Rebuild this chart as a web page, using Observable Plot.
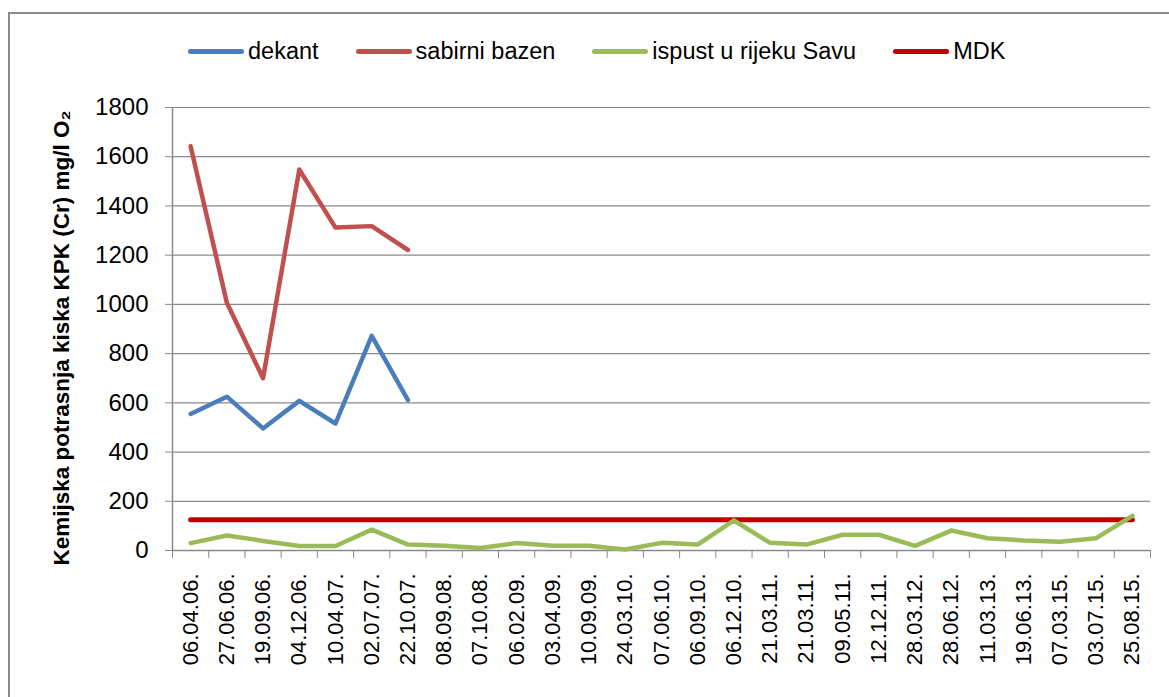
<!DOCTYPE html>
<html>
<head>
<meta charset="utf-8">
<script src="https://cdn.jsdelivr.net/npm/d3@7"></script>
<script src="https://cdn.jsdelivr.net/npm/@observablehq/plot@0.6"></script>
<style>
  html, body { margin: 0; padding: 0; background: #fff; overflow: hidden; }
  #wrap { position: relative; width: 1169px; height: 697px; font-family: "Liberation Sans", Arial, sans-serif; }
  #border { position: absolute; left: 8px; top: 12px; width: 1200px; height: 720px; border: 2px solid #8a8a8a; box-sizing: border-box; }
  #chart { position: absolute; left: 0; top: 0; }
  #legend { position: absolute; left: 188px; top: 38px; display: flex; align-items: center; font-size: 23.5px; color: #000; white-space: nowrap; }
  .item { display: flex; align-items: center; margin-right: 37px; }
  .sw { width: 56px; height: 5px; border-radius: 3px; margin-right: 4px; }
</style>
</head>
<body>
<div id="wrap">
  <div id="border"></div>
  <div id="chart"></div>
  <div id="legend"></div>
</div>
<script>
const dates = ["06.04.06.", "27.06.06.", "19.09.06.", "04.12.06.", "10.04.07.", "02.07.07.", "22.10.07.",
  "08.09.08.", "07.10.08.", "06.02.09.", "03.04.09.", "10.09.09.", "24.03.10.", "07.06.10.", "06.09.10.",
  "06.12.10.", "21.03.11.", "21.03.11.", "09.05.11.", "12.12.11.", "28.03.12.", "28.06.12.", "11.03.13.",
  "19.06.13.", "07.03.15.", "03.07.15.", "25.08.15."];
const dekant = [555, 625, 496, 608, 516, 872, 611];
const sabirni = [1643, 1007, 700, 1548, 1312, 1318, 1221];
const ispust = [30, 61, 39, 18, 18, 85, 24, 19, 10, 30, 19, 19, 4, 31, 24, 122, 31, 24, 64, 64, 19, 81, 50, 41, 36, 50, 141];
const mdk = [125, 125, 125, 125, 125, 125, 125, 125, 125, 125, 125, 125, 125, 125, 125, 125, 125, 125, 125, 125, 125, 125, 125, 125, 125, 125, 125];
const yTicks = [0, 200, 400, 600, 800, 1000, 1200, 1400, 1600, 1800];
const seriesNames = ["dekant", "sabirni bazen", "ispust u rijeku Savu", "MDK"];
const seriesColors = ["#4A7EBB", "#C0504D", "#9BBB59", "#C00000"];
const yTitle = "Kemijska potrasnja kiska KPK (Cr) mg/l O\u2082";

const idx = dates.map((d, i) => i);
const bandEdges = dates.concat([""]).map((d, i) => i - 0.5);

const chart = Plot.plot({
  width: 1169,
  height: 697,
  marginLeft: 172,
  marginRight: 19,
  marginTop: 107,
  marginBottom: 147,
  style: { fontFamily: "Liberation Sans, Arial, sans-serif", background: "transparent", color: "#000" },
  x: { type: "linear", domain: [-0.5, dates.length - 0.5] },
  y: { domain: [0, 1800] },
  marks: [
    Plot.gridY(yTicks.slice(1), { stroke: "#8a8a8a", strokeOpacity: 1, strokeWidth: 1.2 }),
    Plot.ruleY([0], { stroke: "#8a8a8a", strokeWidth: 1.5 }),
    Plot.ruleX([-0.5], { stroke: "#8a8a8a", strokeWidth: 1.5 }),
    Plot.axisY(yTicks, { tickSize: 7, tickPadding: 17, fontSize: 24, stroke: "#8a8a8a", fill: "#000", tickFormat: d => String(d), label: null }),
    Plot.axisX(bandEdges, { tickSize: 8, tickFormat: () => "", stroke: "#8a8a8a", label: null }),
    Plot.axisX(idx, { tickSize: 0, tickPadding: 23, tickRotate: -90, fontSize: 22, fill: "#000", tickFormat: i => dates[i], label: null }),
    Plot.text([yTitle], { frameAnchor: "left", textAnchor: "middle", rotate: -90, dx: -111, dy: 9, fontSize: 22.5, fontWeight: "bold", fill: "#000" }),
    Plot.lineY(mdk, { x: (d, i) => i, y: d => d, stroke: seriesColors[3], strokeWidth: 5, strokeLinecap: "round" }),
    Plot.lineY(ispust, { x: (d, i) => i, y: d => d, stroke: seriesColors[2], strokeWidth: 4.5, strokeLinecap: "round", strokeLinejoin: "round" }),
    Plot.lineY(dekant, { x: (d, i) => i, y: d => d, stroke: seriesColors[0], strokeWidth: 4.5, strokeLinecap: "round", strokeLinejoin: "round" }),
    Plot.lineY(sabirni, { x: (d, i) => i, y: d => d, stroke: seriesColors[1], strokeWidth: 4.5, strokeLinecap: "round", strokeLinejoin: "round" })
  ]
});
document.getElementById("chart").appendChild(chart);

const legend = document.getElementById("legend");
seriesNames.forEach((name, i) => {
  const item = document.createElement("div");
  item.className = "item";
  const sw = document.createElement("div");
  sw.className = "sw";
  sw.style.background = seriesColors[i];
  const t = document.createElement("span");
  t.textContent = name;
  item.appendChild(sw);
  item.appendChild(t);
  legend.appendChild(item);
});
</script>
</body>
</html>
